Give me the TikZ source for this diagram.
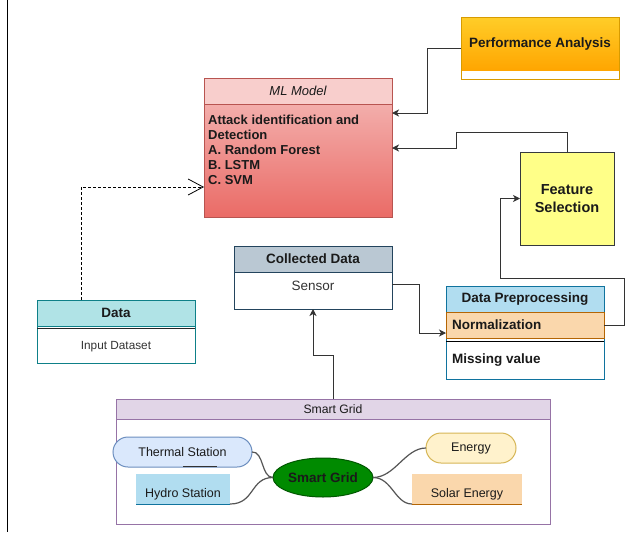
\documentclass[tikz,border=0pt]{standalone}
\usepackage{fontspec}
\setmainfont{Liberation Sans}
\usetikzlibrary{arrows.meta,shapes.geometric}
\definecolor{paTop}{HTML}{FFCD28}
\definecolor{paBot}{HTML}{FFA500}
\definecolor{paStroke}{HTML}{D79B00}
\definecolor{mlTop}{HTML}{F5BDBB}
\definecolor{mlBot}{HTML}{EA6B66}
\definecolor{mlHead}{HTML}{F8CECC}
\definecolor{mlStroke}{HTML}{B85450}
\definecolor{fsFill}{HTML}{FFFF88}
\definecolor{fsStroke}{HTML}{36393D}
\definecolor{dpHead}{HTML}{B1DDF0}
\definecolor{dpStroke}{HTML}{10739E}
\definecolor{nFill}{HTML}{FAD7AC}
\definecolor{nStroke}{HTML}{B46504}
\definecolor{cdHead}{HTML}{BAC8D3}
\definecolor{cdStroke}{HTML}{23445D}
\definecolor{dHead}{HTML}{B0E3E6}
\definecolor{dStroke}{HTML}{0E8088}
\definecolor{sgHead}{HTML}{E1D5E7}
\definecolor{sgStroke}{HTML}{9673A6}
\definecolor{thFill}{HTML}{DAE8FC}
\definecolor{thStroke}{HTML}{6C8EBF}
\definecolor{sgEFill}{HTML}{008A00}
\definecolor{sgEStroke}{HTML}{005700}
\definecolor{enFill}{HTML}{FFF2CC}
\definecolor{enStroke}{HTML}{D6B656}
\definecolor{txt}{HTML}{1A1A1A}
\definecolor{graytxt}{HTML}{333333}
\definecolor{linec}{HTML}{333333}
\definecolor{curvec}{HTML}{555555}
\begin{document}
\begin{tikzpicture}[x=1pt,y=-1pt,
  box/.style={rectangle, outer sep=0pt, inner sep=0pt, line width=1pt, anchor=north west},
  btext/.style={font=\fontsize{13.5}{16}\selectfont\bfseries, text=txt},
  ntext/.style={font=\fontsize{12.5}{15}\selectfont, text=txt, inner sep=0pt},
  conn/.style={draw=linec, line width=1pt, -{Stealth[length=7pt,width=7pt,inset=2pt]}},
  dasharrow/.style={draw=black, line width=0.8pt, dash pattern=on 3pt off 2pt, -{Straight Barb[length=15pt,width=16pt,line width=0.8pt]}},
  curve/.style={draw=curvec, line width=1.2pt}
]
\useasboundingbox (0,0) rectangle (640,533);
\draw[line width=1pt] (7,0) -- (7,532);

% Performance Analysis
\path[top color=paTop, bottom color=paBot] (461,17) rectangle (619,71);
\fill[white] (461,71) rectangle (619,79);
\node[box, draw=paStroke, minimum width=158pt, minimum height=62pt] (pa) at (461,17) {};
\node[btext] (patext) at (540,44) {Performance Analysis};

% ML Model
\node[box, draw=mlStroke, top color=mlTop, bottom color=mlBot, minimum width=188pt, minimum height=139pt] (ml) at (204,78) {};
\node[box, draw=mlStroke, fill=mlHead, minimum width=188pt, minimum height=26pt, font=\fontsize{13}{15}\selectfont\itshape, text=txt] (mlh) at (204,78) {ML Model};
\node[anchor=north west, inner sep=0pt, align=left, font=\fontsize{13}{15.2}\selectfont\bfseries, text=txt] (mltext) at (208,114.5) {Attack identification and\\Detection\\A. Random Forest\\B. LSTM\\C. SVM};

% Feature Selection
\node[draw=fsStroke, fill=fsFill, line width=1pt, minimum width=94pt, minimum height=93pt, inner sep=0pt, outer sep=0pt, align=center, font=\fontsize{14.5}{18}\selectfont\bfseries, text=txt] (fs) at (567,198.5) {Feature\\Selection};

% Data Preprocessing
\node[box, draw=dpStroke, fill=white, minimum width=158pt, minimum height=93pt] (dp) at (446,286) {};
\node[box, draw=dpStroke, fill=dpHead, minimum width=158pt, minimum height=26pt, btext] (dph) at (446,286) {Data Preprocessing};
\node[box, draw=nStroke, fill=nFill, minimum width=158pt, minimum height=26pt, btext, inner xsep=6pt, text width=146pt, align=left] (norm) at (446,312) {Normalization};
\draw[line width=1pt, black] (dp.west |- 0,341) -- (dp.east |- 0,341);
\node[btext, anchor=west, inner sep=0pt] (mv) at (452,360) {Missing value};

% Collected Data
\node[box, draw=cdStroke, fill=white, minimum width=158pt, minimum height=63pt] (cd) at (234,246) {};
\node[box, draw=cdStroke, fill=cdHead, minimum width=158pt, minimum height=26pt, btext] (cdh) at (234,246) {Collected Data};
\node[ntext, font=\fontsize{13.5}{16}\selectfont, text=graytxt] (sensor) at (313,286) {Sensor};

% Data
\node[box, draw=dStroke, fill=white, minimum width=158pt, minimum height=63pt] (data) at (37,300) {};
\node[box, draw=dStroke, fill=dHead, minimum width=158pt, minimum height=26pt, btext] (datah) at (37,300) {Data};
\draw[line width=1pt, black!85] (data.west |- 0,328.5) -- (data.east |- 0,328.5);
\node[ntext, font=\fontsize{11.8}{14}\selectfont, text=graytxt] (input) at (116,347) {Input Dataset};

% Smart Grid container
\node[box, draw=sgStroke, fill=white, minimum width=434pt, minimum height=125pt] (sgc) at (116,399) {};
\node[box, draw=sgStroke, fill=sgHead, minimum width=434pt, minimum height=20pt, font=\fontsize{12.2}{14}\selectfont, text=txt] (sgh) at (116,399) {Smart Grid};

\node[draw=thStroke, fill=thFill, rounded corners=15pt, minimum width=139pt, minimum height=30pt, line width=1pt, inner sep=0pt, outer sep=0pt, ntext] (th) at (182.5,452) {Thermal Station};
\draw[line width=1.2pt, black!80] (183,466.5) -- (217,466.5);

\node[fill=dpHead, minimum width=94pt, minimum height=30pt, inner sep=0pt, outer sep=0pt] (hy) at (183,489) {};
\draw[dpStroke, line width=1pt] (hy.south west) -- (hy.south east);
\node[ntext] (hylabel) at (183,494) {Hydro Station};

\node[ellipse, draw=sgEStroke, fill=sgEFill, line width=1pt, minimum width=100pt, minimum height=39pt, inner sep=0pt, outer sep=0pt, btext] (sg) at (323,477.5) {Smart Grid};

\node[draw=enStroke, fill=enFill, rounded corners=15pt, minimum width=90pt, minimum height=30pt, line width=1pt, inner sep=0pt, outer sep=0pt, ntext] (en) at (471,448) {Energy};

\node[fill=nFill, minimum width=110pt, minimum height=30pt, inner sep=0pt, outer sep=0pt] (so) at (467,489) {};
\draw[nStroke, line width=1pt] (so.south west) -- (so.south east);
\node[ntext] (solabel) at (467,494) {Solar Energy};

% curves
\draw[curve] (th.east) .. controls (264,451) and (261,477.5) .. (sg.west);
\draw[curve] (hy.south east) .. controls (255,504) and (250,477.5) .. (sg.west);
\draw[curve] (sg.east) .. controls (395,477.5) and (405,448) .. (en.west);
\draw[curve] (sg.east) .. controls (392,477.5) and (395,504) .. (so.south west);

% connectors
\draw[conn] (pa.west) -| (427,113) -- (ml.east |- 0,113);
\draw[conn] (fs.north) |- (456,132) |- (ml.east |- 0,148);
\draw[conn] (norm.east) -| (624,278) -| (500,198.5) -- (fs.west);
\draw[conn] (cd.east |- 0,284) -| (419,333) -- (norm.west |- 0,333);
\draw[conn] (sgc.north) |- (313,355) -- (cd.south);
\draw[dasharrow] (81,0 |- data.north) |- (ml.west |- 0,187);
\end{tikzpicture}
\end{document}
